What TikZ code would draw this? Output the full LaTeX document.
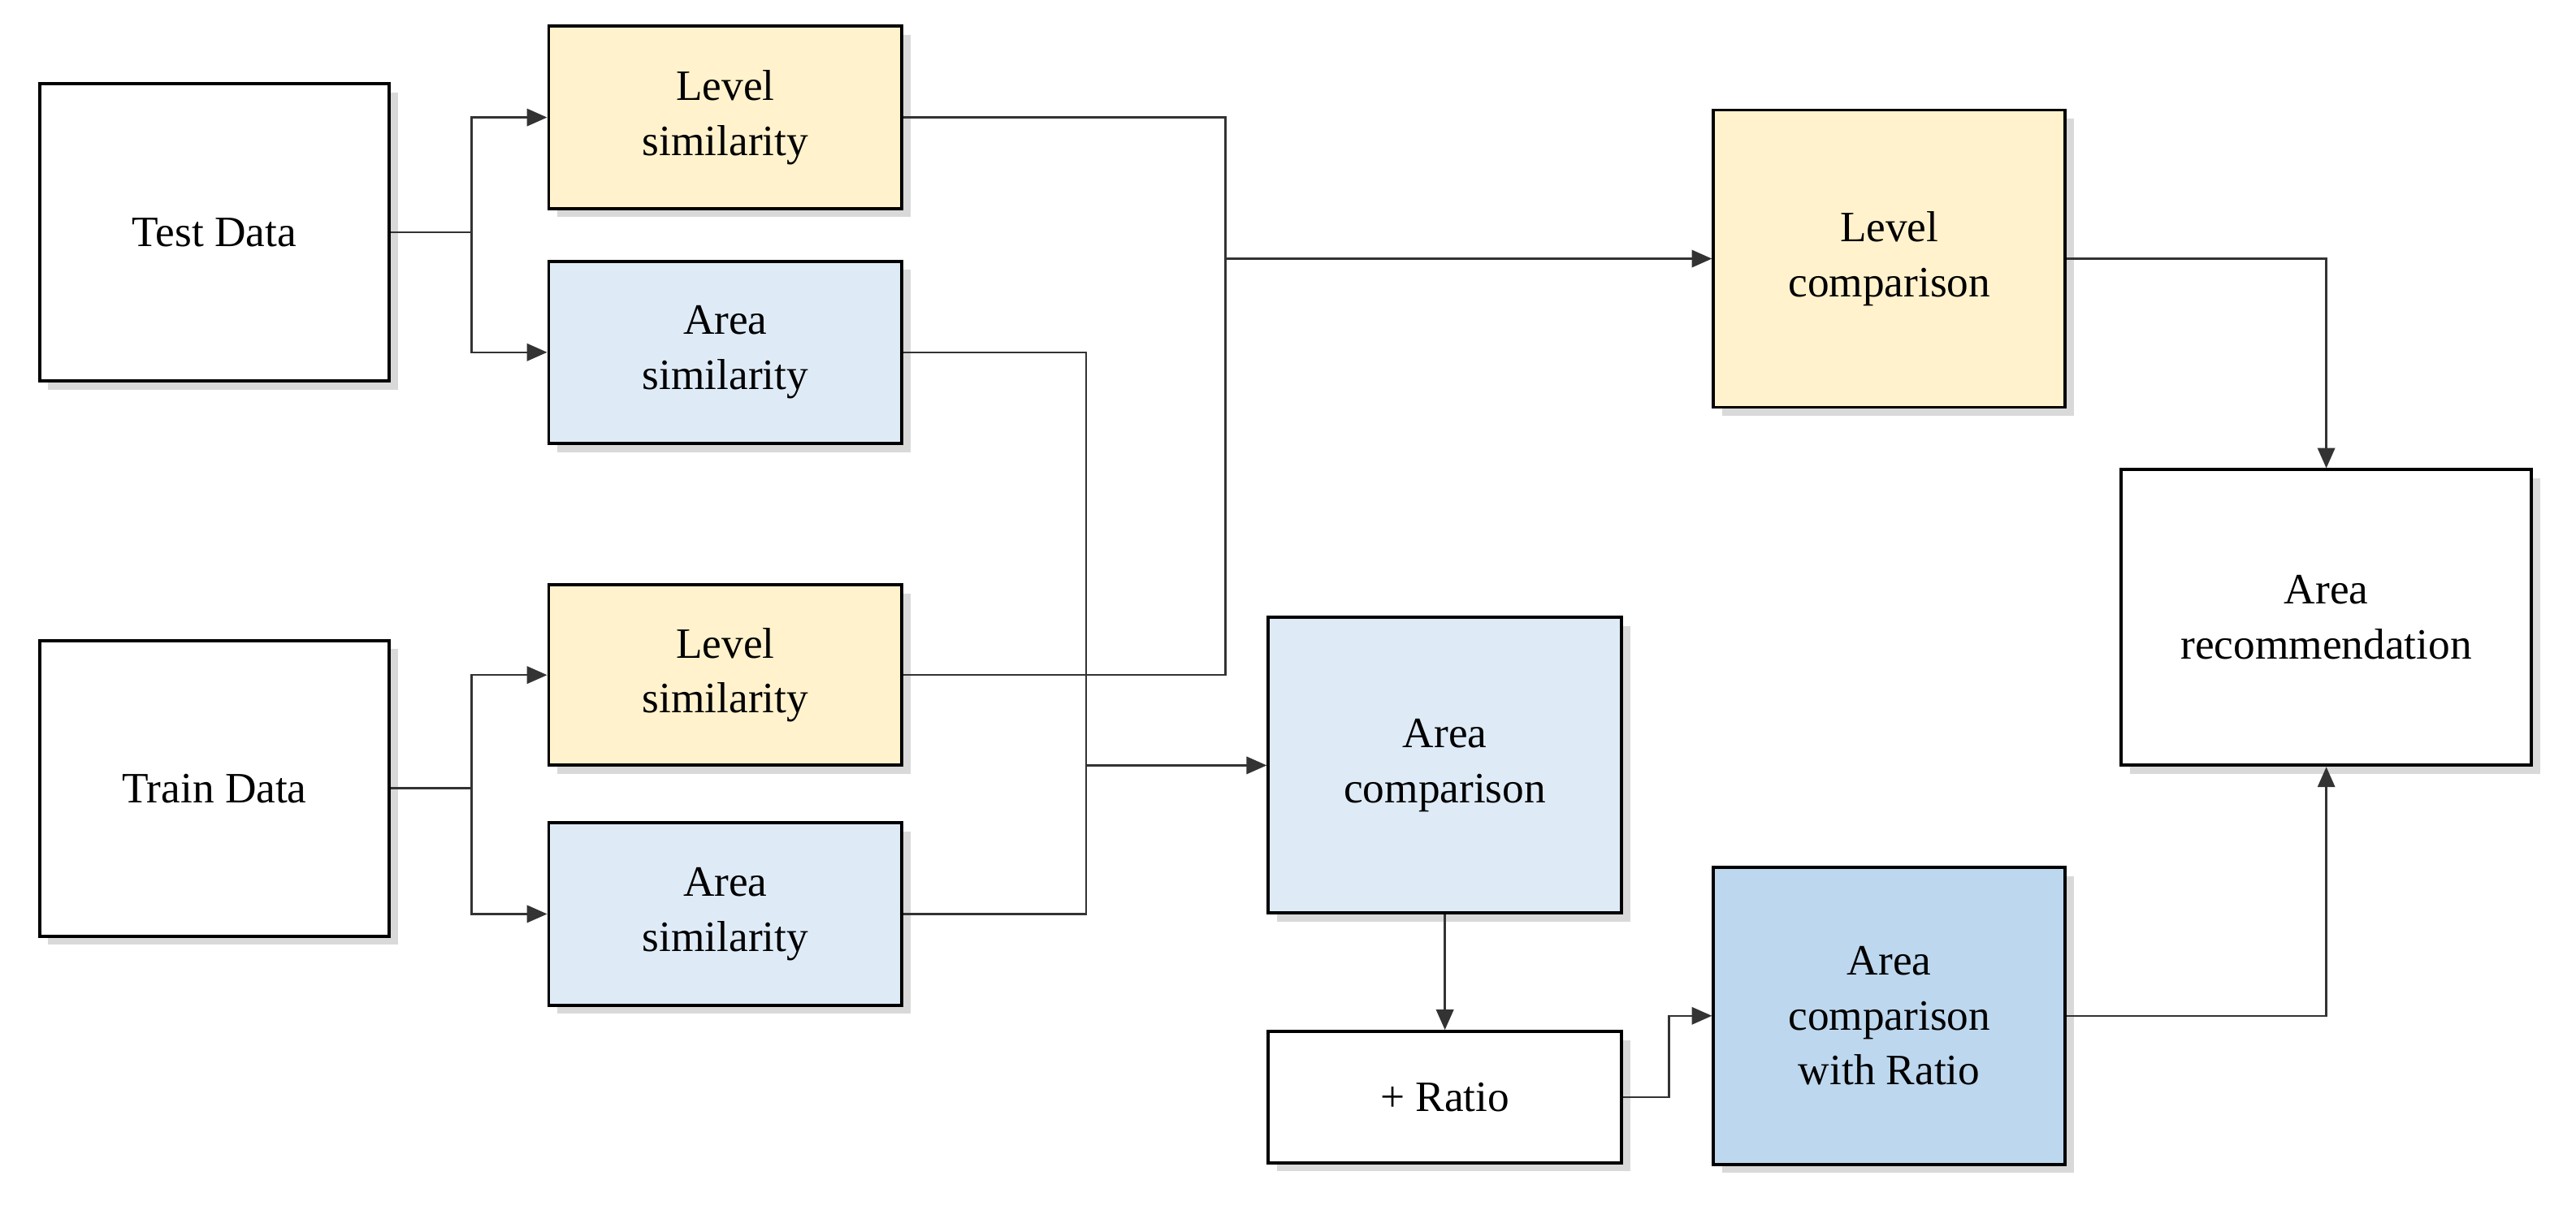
\documentclass[tikz,border=0pt]{standalone}
\usepackage{fontspec}
\setmainfont{Liberation Serif}
\usetikzlibrary{shadows,arrows.meta}
\definecolor{yel}{HTML}{FFF2CC}
\definecolor{lblue}{HTML}{DEEBF7}
\definecolor{dblue}{HTML}{BDD7EE}
\begin{document}
\begin{tikzpicture}[x=0.02cm,y=-0.02cm,
  box/.style={draw=black,line width=1.1pt,fill=white,drop shadow={shadow xshift=3pt,shadow yshift=-3pt,opacity=0.3},
    align=center,font=\fontsize{15}{19}\selectfont},
  ln/.style={draw=black!80,line width=0.7pt},
  ar/.style={ln,-{Triangle[length=7pt,width=6pt]}}]
\useasboundingbox (0,0) rectangle (1568,734);
\newcommand{\bx}[6]{\node[box,fill=#6,minimum width={(#3-#2)*0.02cm},minimum height={(#5-#4)*0.02cm}] (#1) at ({(#2+#3)/2},{(#4+#5)/2}) {#2@};}
\node[box,minimum width=4.26cm,minimum height=3.62cm] (test) at (130.5,141.5) {Test Data};
\node[box,minimum width=4.26cm,minimum height=3.6cm] (train) at (130.5,480) {Train Data};
\node[box,fill=yel,minimum width=4.3cm,minimum height=2.22cm] (ls1) at (441.5,71.5) {Level\\similarity};
\node[box,fill=lblue,minimum width=4.3cm,minimum height=2.22cm] (as1) at (441.5,214.5) {Area\\similarity};
\node[box,fill=yel,minimum width=4.3cm,minimum height=2.2cm] (ls2) at (441.5,411) {Level\\similarity};
\node[box,fill=lblue,minimum width=4.3cm,minimum height=2.22cm] (as2) at (441.5,556.5) {Area\\similarity};
\node[box,fill=yel,minimum width=4.28cm,minimum height=3.62cm] (lc) at (1150,157.5) {Level\\comparison};
\node[box,fill=lblue,minimum width=4.3cm,minimum height=3.6cm] (ac) at (879.5,466) {Area\\comparison};
\node[box,minimum width=4.3cm,minimum height=1.6cm] (ratio) at (879.5,668) {+ Ratio};
\node[box,fill=dblue,minimum width=4.28cm,minimum height=3.62cm] (acr) at (1150,618.5) {Area\\comparison\\with Ratio};
\node[box,minimum width=5cm,minimum height=3.6cm] (rec) at (1416,376) {Area\\recommendation};
\coordinate (j1) at (287,141.5);
\coordinate (j2) at (287,480);
\draw[ln] (test.east) -- (j1);
\draw[ar] (j1) |- (ls1.west);
\draw[ar] (j1) |- (as1.west);
\draw[ln] (train.east) -- (j2);
\draw[ar] (j2) |- (ls2.west);
\draw[ar] (j2) |- (as2.west);
\draw[ln] (ls1.east) -| (746,411) -- (ls2.east);
\coordinate (j3) at (746,157.5);
\draw[ar] (j3) -- (lc.west);
\draw[ln] (as1.east) -| (661,556.5) -- (as2.east);
\coordinate (j4) at (661,466);
\draw[ar] (j4) -- (ac.west);
\draw[ar] (ac.south) -- (ratio.north);
\draw[ar] (ratio.east) -- (1016,668) |- (acr.west);
\draw[ar] (lc.east) -| (rec.north);
\draw[ar] (acr.east) -| (rec.south);
\end{tikzpicture}
\end{document}
